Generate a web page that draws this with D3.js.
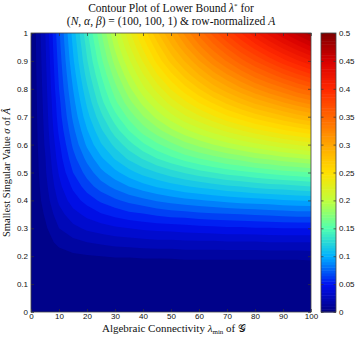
<!DOCTYPE html>
<html>
<head>
<meta charset="utf-8">
<script src="https://cdn.jsdelivr.net/npm/d3@7"></script>
<style>
  body { margin: 0; background: #fff; }
  text { font-family: "Liberation Sans", Arial, sans-serif; fill: #111; }
  .serif { font-family: "Liberation Serif", "DejaVu Serif", serif; }
</style>
</head>
<body>
<div id="chart"></div>
<script>
// grid of the lower bound
var lambdaGrid = [0, 5, 10, 15, 20, 25, 30, 35, 40, 45, 50, 55, 60, 65, 70, 75, 80, 85, 90, 95, 100];
var sigmaGrid = [0, 0.05, 0.1, 0.15, 0.2, 0.25, 0.3, 0.35, 0.4, 0.45, 0.5, 0.55, 0.6, 0.65, 0.7, 0.75, 0.8, 0.85, 0.9, 0.95, 1];

// one row per sigma (bottom to top), one column per lambda
var lowerBound = [
  [0, 0, 0, 0, 0, 0, 0, 0, 0, 0, 0, 0, 0, 0, 0, 0, 0, 0, 0, 0, 0],
  [0, 0, 0, 0, 0, 0, 0, 0, 0, 0, 0, 0, 0, 0, 0, 0, 0, 0, 0, 0, 0],
  [0, 0, 0, 0, 0, 0, 0, 0, 0, 0, 0, 0, 0, 0, 0, 0, 0, 0, 0, 0, 0],
  [0, 0, 0, 0, 0, 0, 0, 0, 0, 0, .001, .001, .001, .001, .001, .001, .001, .001, .001, .001, .001],
  [0, .001, .005, .008, .009, .010, .011, .011, .012, .012, .012, .013, .013, .013, .013, .013, .013, .013, .013, .013, .014],
  [0, .005, .013, .017, .020, .022, .024, .025, .026, .027, .027, .028, .028, .028, .029, .029, .029, .030, .030, .030, .030],
  [0, .008, .020, .027, .032, .035, .038, .040, .042, .043, .044, .045, .046, .047, .048, .048, .049, .049, .050, .050, .050],
  [0, .011, .026, .036, .043, .049, .053, .057, .059, .062, .064, .065, .067, .068, .069, .070, .071, .072, .073, .074, .074],
  [0, .014, .032, .045, .054, .062, .068, .073, .077, .081, .084, .087, .089, .091, .093, .095, .096, .097, .099, .100, .101],
  [0, .016, .037, .052, .065, .075, .083, .090, .096, .101, .105, .109, .112, .115, .118, .120, .123, .125, .126, .128, .130],
  [0, .018, .041, .060, .074, .087, .097, .106, .114, .120, .126, .131, .136, .140, .144, .147, .150, .153, .156, .158, .160],
  [0, .019, .045, .066, .083, .098, .111, .122, .131, .140, .147, .154, .160, .165, .170, .174, .179, .182, .186, .189, .192],
  [0, .021, .048, .072, .092, .109, .123, .136, .148, .158, .167, .176, .183, .190, .196, .202, .207, .212, .217, .221, .225],
  [0, .022, .052, .077, .099, .118, .135, .150, .164, .176, .187, .197, .206, .214, .222, .229, .236, .242, .248, .253, .258],
  [0, .023, .055, .082, .106, .127, .146, .163, .179, .193, .206, .218, .228, .238, .248, .256, .264, .271, .278, .285, .291],
  [0, .024, .057, .086, .112, .136, .157, .176, .193, .209, .224, .237, .250, .261, .272, .282, .292, .300, .309, .317, .324],
  [0, .025, .060, .090, .118, .143, .166, .187, .207, .224, .241, .256, .270, .284, .296, .308, .319, .329, .338, .348, .356],
  [0, .026, .062, .094, .124, .150, .175, .198, .219, .239, .257, .274, .290, .305, .319, .332, .345, .356, .368, .378, .388],
  [0, .027, .064, .098, .129, .157, .184, .208, .231, .253, .273, .291, .309, .326, .341, .356, .370, .383, .396, .408, .419],
  [0, .028, .066, .101, .133, .163, .192, .218, .242, .265, .287, .308, .327, .345, .362, .379, .394, .409, .423, .436, .449],
  [0, .029, .068, .104, .138, .169, .199, .227, .253, .278, .301, .323, .344, .364, .383, .400, .418, .434, .449, .464, .478]
];

var xTicks = [0, 10, 20, 30, 40, 50, 60, 70, 80, 90, 100];
var yTicks = [0, 0.1, 0.2, 0.3, 0.4, 0.5, 0.6, 0.7, 0.8, 0.9, 1];
var cbarTicks = [0, 0.05, 0.1, 0.15, 0.2, 0.25, 0.3, 0.35, 0.4, 0.45, 0.5];

(function() {
  var margin = { top: 33, left: 31, right: 46, bottom: 25 },
    width = 357 - margin.left - margin.right,
    height = 337 - margin.top - margin.bottom;

  var svg = d3.select("#chart")
    .append("svg")
    .attr("width", 357)
    .attr("height", 337)
    .append("g")
    .attr("transform", "translate(" + margin.left + "," + margin.top + ")");

  var x = d3.scaleLinear().domain([0, 100]).range([0, width]);
  var y = d3.scaleLinear().domain([0, 1]).range([height, 0]);

  // jet-like colours as they appear on the colour bar
  var color = d3.scaleLinear()
    .domain(cbarTicks)
    .range(["#00007f", "#0010f0", "#00b0ff", "#50ffb0", "#c0ff3c", "#ffe000",
            "#ffa600", "#ff6600", "#ff2800", "#d80000", "#800000"])
    .clamp(true);

  var step = 0.01;
  var levels = d3.range(0, 0.5, step);

  var nx = lambdaGrid.length, ny = sigmaGrid.length;
  var flat = [];
  lowerBound.forEach(function(row) { flat = flat.concat(row); });

  var contours = d3.contours()
    .size([nx, ny])
    .thresholds(levels)(flat);

  // grid sample i sits at i + 0.5 in contour space
  var gx = d3.scaleLinear().domain([0.5, nx - 0.5]).range([x(lambdaGrid[0]), x(lambdaGrid[nx - 1])]);
  var gy = d3.scaleLinear().domain([0.5, ny - 0.5]).range([y(sigmaGrid[0]), y(sigmaGrid[ny - 1])]);
  var path = d3.geoPath(d3.geoTransform({
    point: function(px, py) { this.stream.point(gx(px), gy(py)); }
  }));

  svg.append("clipPath").attr("id", "clip")
    .append("rect").attr("width", width).attr("height", height);

  var plot = svg.append("g").attr("clip-path", "url(#clip)");
  plot.append("rect").attr("width", width).attr("height", height).attr("fill", color(0));
  plot.selectAll("path")
    .data(contours)
    .enter().append("path")
    .attr("d", path)
    .attr("fill", function(d) { return color(d.value + step / 2); });

  var fmt = function(d) { return String(d); };

  // axes, ticks pointing inward like matlab
  svg.append("g")
    .attr("transform", "translate(0," + height + ")")
    .call(d3.axisBottom(x).tickValues(xTicks).tickSize(-3).tickSizeOuter(0).tickPadding(1.5).tickFormat(fmt));
  svg.append("g")
    .call(d3.axisTop(x).tickValues(xTicks).tickSize(-3).tickSizeOuter(0).tickFormat(""));
  svg.append("g")
    .call(d3.axisLeft(y).tickValues(yTicks).tickSize(-3).tickSizeOuter(0).tickPadding(3).tickFormat(fmt));
  svg.append("g")
    .attr("transform", "translate(" + width + ",0)")
    .call(d3.axisRight(y).tickValues(yTicks).tickSize(-3).tickSizeOuter(0).tickFormat(""));

  svg.selectAll(".domain").remove();
  svg.selectAll(".tick line").attr("stroke", "#333").attr("stroke-width", 0.7);
  svg.selectAll(".tick text").attr("font-size", 8).attr("font-family", null).style("fill", "#111");

  svg.append("rect")
    .attr("width", width).attr("height", height)
    .attr("fill", "none").attr("stroke", "#444").attr("stroke-width", 0.8);

  // colour bar
  var cbX = 290, cbW = 15;
  var cy = d3.scaleLinear().domain([0, 0.5]).range([height, 0]);
  var cb = svg.append("g").attr("transform", "translate(" + cbX + ",0)");
  cb.selectAll("rect.band")
    .data(d3.range(0, 0.5, 0.005))
    .enter().append("rect")
    .attr("class", "band")
    .attr("x", 0)
    .attr("width", cbW)
    .attr("y", function(d) { return cy(d + 0.005); })
    .attr("height", cy(0) - cy(0.005) + 0.5)
    .attr("fill", function(d) { return color(d + 0.0025); });
  cb.append("g")
    .attr("transform", "translate(" + cbW + ",0)")
    .call(d3.axisRight(cy).tickValues(cbarTicks).tickSize(-2.5).tickSizeOuter(0).tickPadding(3).tickFormat(fmt));
  cb.append("g")
    .call(d3.axisLeft(cy).tickValues(cbarTicks).tickSize(-2.5).tickSizeOuter(0).tickFormat(""));
  cb.selectAll(".domain").remove();
  cb.selectAll(".tick line").attr("stroke", "#333").attr("stroke-width", 0.7);
  cb.selectAll(".tick text").attr("font-size", 8).attr("font-family", null).style("fill", "#111");
  cb.append("rect")
    .attr("width", cbW).attr("height", height)
    .attr("fill", "none").attr("stroke", "#444").attr("stroke-width", 0.8);

  // title
  var t1 = svg.append("text").attr("class", "serif")
    .attr("x", width / 2).attr("y", -21).attr("text-anchor", "middle").attr("font-size", 11.5);
  t1.append("tspan").text("Contour Plot of Lower Bound ");
  t1.append("tspan").attr("font-style", "italic").text("λ");
  t1.append("tspan").attr("font-size", 7).attr("dy", -4).text("*");
  t1.append("tspan").attr("dy", 4).text(" for");

  var t2 = svg.append("text").attr("class", "serif")
    .attr("x", width / 2).attr("y", -8).attr("text-anchor", "middle").attr("font-size", 11.5);
  t2.append("tspan").text("(");
  t2.append("tspan").attr("font-style", "italic").text("N");
  t2.append("tspan").text(", ");
  t2.append("tspan").attr("font-style", "italic").text("α");
  t2.append("tspan").text(", ");
  t2.append("tspan").attr("font-style", "italic").text("β");
  t2.append("tspan").text(") = (100, 100, 1) & row-normalized ");
  t2.append("tspan").attr("font-style", "italic").text("A");

  // x label
  var xl = svg.append("text").attr("class", "serif")
    .attr("x", width / 2 + 3).attr("y", height + 19.5).attr("text-anchor", "middle").attr("font-size", 11);
  xl.append("tspan").text("Algebraic Connectivity ");
  xl.append("tspan").attr("font-style", "italic").text("λ");
  xl.append("tspan").attr("font-size", 7).attr("dy", 2).text("min");
  xl.append("tspan").attr("dy", -2).text(" of ");
  xl.append("tspan").text("𝒢");

  // y label
  var yl = svg.append("text").attr("class", "serif")
    .attr("transform", "translate(-21," + (height / 2) + ") rotate(-90)")
    .attr("text-anchor", "middle").attr("font-size", 10.5);
  yl.append("tspan").text("Smallest Singular Value ");
  yl.append("tspan").attr("font-style", "italic").text("σ");
  yl.append("tspan").text(" of ");
  yl.append("tspan").attr("font-style", "italic").text("Â");
})();
</script>
</body>
</html>
